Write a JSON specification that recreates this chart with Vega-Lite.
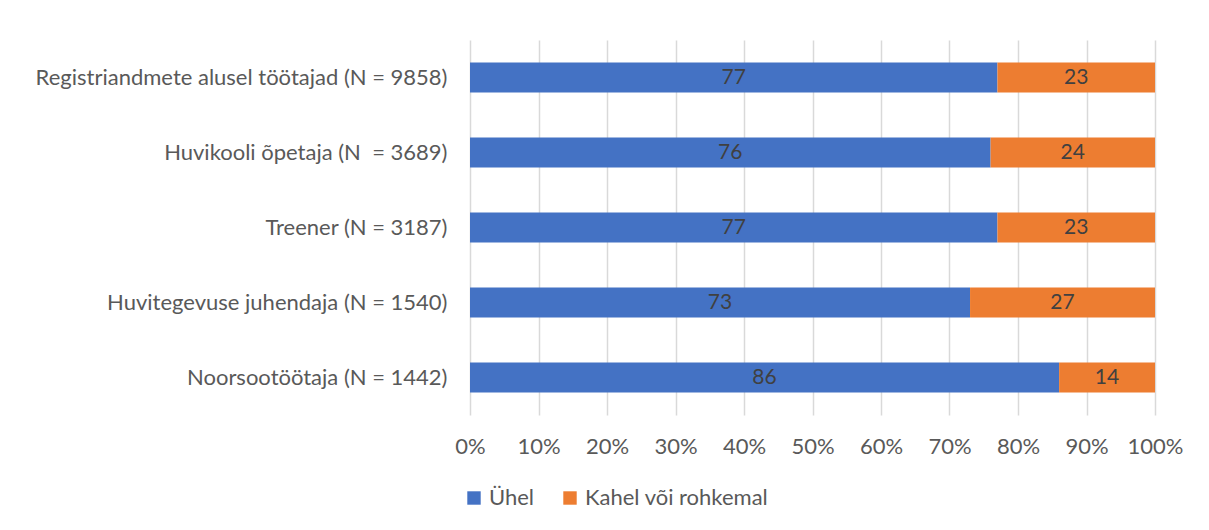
{
  "$schema": "https://vega.github.io/schema/vega-lite/v6.json",
  "autosize": "none",
  "width": 685,
  "height": 375,
  "padding": {"left": 470, "top": 40, "right": 54, "bottom": 115},
  "background": "white",
  "config": {
    "view": {"stroke": null},
    "font": "Lato",
    "axis": {"labelFont": "Lato", "labelColor": "#595959", "labelFontSize": 22}
  },
  "data": {
    "values": [
      {"cat": "Registriandmete alusel töötajad (N = 9858)", "type": "Ühel", "order": 1, "value": 77},
      {"cat": "Registriandmete alusel töötajad (N = 9858)", "type": "Kahel või rohkemal", "order": 2, "value": 23},
      {"cat": "Huvikooli õpetaja (N\u00a0 = 3689)", "type": "Ühel", "order": 1, "value": 76},
      {"cat": "Huvikooli õpetaja (N\u00a0 = 3689)", "type": "Kahel või rohkemal", "order": 2, "value": 24},
      {"cat": "Treener (N = 3187)", "type": "Ühel", "order": 1, "value": 77},
      {"cat": "Treener (N = 3187)", "type": "Kahel või rohkemal", "order": 2, "value": 23},
      {"cat": "Huvitegevuse juhendaja (N = 1540)", "type": "Ühel", "order": 1, "value": 73},
      {"cat": "Huvitegevuse juhendaja (N = 1540)", "type": "Kahel või rohkemal", "order": 2, "value": 27},
      {"cat": "Noorsootöötaja (N = 1442)", "type": "Ühel", "order": 1, "value": 86},
      {"cat": "Noorsootöötaja (N = 1442)", "type": "Kahel või rohkemal", "order": 2, "value": 14}
    ]
  },
  "encoding": {
    "y": {
      "field": "cat", "type": "nominal", "sort": null,
      "scale": {"paddingInner": 0.6, "paddingOuter": 0.3},
      "axis": {"title": null, "ticks": false, "domain": false, "labelPadding": 23, "labelLimit": 470}
    },
    "x": {
      "field": "value", "type": "quantitative", "stack": "zero",
      "scale": {"domain": [0, 100], "nice": false},
      "axis": {
        "title": null, "values": [0,10,20,30,40,50,60,70,80,90,100],
        "labelExpr": "datum.value + '%'", "labelFlush": false,
        "grid": true, "gridColor": "#d9d9d9", "gridWidth": 1.5,
        "domain": false, "ticks": false, "labelPadding": 21
      }
    },
    "order": {"field": "order", "type": "quantitative"}
  },
  "layer": [
    {
      "mark": {"type": "bar"},
      "encoding": {
        "color": {
          "field": "type", "type": "nominal",
          "scale": {"domain": ["Ühel", "Kahel või rohkemal"], "range": ["#4472C4", "#ED7D31"]},
          "legend": {
            "title": null, "orient": "none", "direction": "horizontal",
            "legendX": -7, "legendY": 447,
            "symbolType": "square", "symbolSize": 180, "symbolStrokeWidth": 0,
            "labelFont": "Lato", "labelFontSize": 22, "labelColor": "#595959",
            "labelLimit": 400, "columnPadding": 24, "labelOffset": 4
          }
        }
      }
    },
    {
      "mark": {"type": "text", "fontSize": 21, "color": "#404040", "font": "Lato"},
      "encoding": {
        "x": {"field": "value", "type": "quantitative", "stack": "zero", "bandPosition": 0.5},
        "text": {"field": "value", "type": "quantitative"}
      }
    }
  ]
}
